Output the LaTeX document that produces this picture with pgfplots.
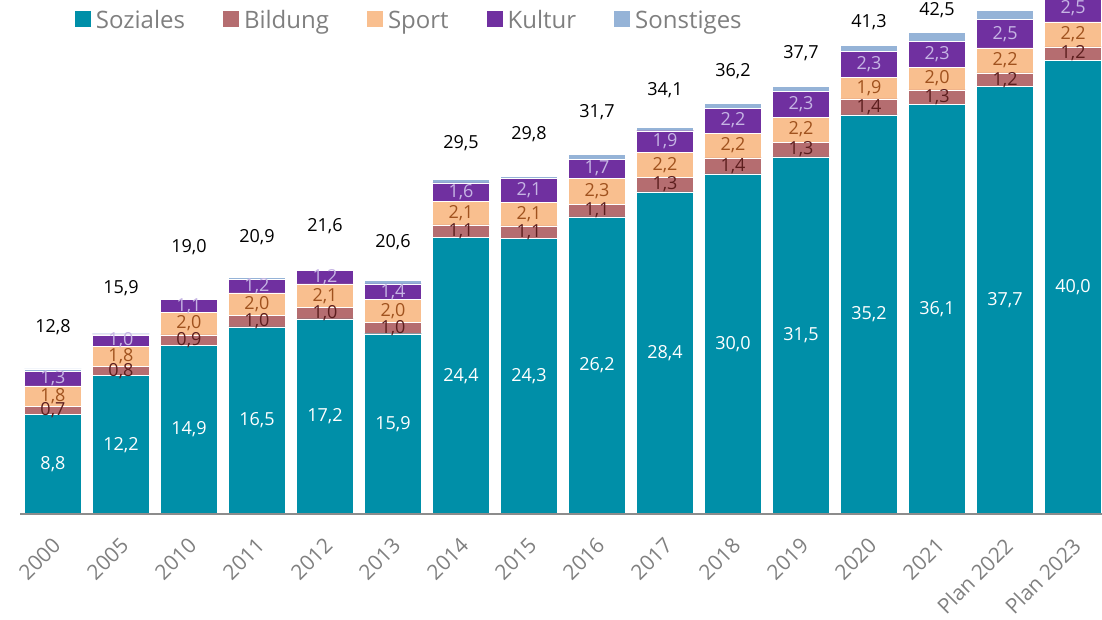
\documentclass[border=0pt]{standalone}
\usepackage{pgfplots}
\pgfplotsset{compat=1.18}
\usepackage{pgfplotstable}
\usepackage{fontspec}
\setmainfont{Open Sans}
\definecolor{csoz}{HTML}{008FA8}
\definecolor{cbil}{HTML}{B56D70}
\definecolor{cspo}{HTML}{F9BF8F}
\definecolor{ckul}{HTML}{7030A0}
\definecolor{cson}{HTML}{95B3D7}
\definecolor{ttext}{HTML}{7F7F7F}
\definecolor{taxis}{HTML}{8C8C8C}
\definecolor{lbil}{HTML}{5C1E1E}
\definecolor{lspo}{HTML}{A0521E}
\definecolor{lkul}{HTML}{C6B5E4}

\pgfplotstableread{
x soz bil spo kul son
0 8.8 0.7 1.8 1.3 0.2
1 12.2 0.8 1.8 1.0 0.1
2 14.9 0.9 2.0 1.1 0.1
3 16.5 1.0 2.0 1.2 0.2
4 17.2 1.0 2.1 1.2 0.1
5 15.9 1.0 2.0 1.4 0.3
6 24.4 1.1 2.1 1.6 0.3
7 24.3 1.1 2.1 2.1 0.2
8 26.2 1.1 2.3 1.7 0.4
9 28.4 1.3 2.2 1.9 0.3
10 30.0 1.4 2.2 2.2 0.4
11 31.5 1.3 2.2 2.3 0.4
12 35.2 1.4 1.9 2.3 0.5
13 36.1 1.3 2.0 2.3 0.8
14 37.7 1.2 2.2 2.5 0.8
15 40.0 1.2 2.2 2.5 0.8
}\datatable

\pgfplotstableread{
x ly tot
0 16.52 12.8
1 19.93 15.9
2 23.54 19.0
3 24.43 20.9
4 25.40 21.6
5 23.99 20.6
6 32.72 29.5
7 33.51 29.8
8 35.45 31.7
9 37.39 34.1
10 39.07 36.2
11 40.65 37.7
12 43.39 41.3
13 44.44 42.5
}\tottable

\pgfplotsset{
  common/.style={
    scale only axis, width=1082pt, height=514pt,
    xmin=-0.485, xmax=15.426, ymin=0, ymax=45.33,
    enlargelimits=false,
    at={(20pt,105pt)}, anchor=south west, clip=false,
  },
  lab/.style={draw=none, mark=none, nodes near coords, point meta=explicit,
    every node near coord/.append style={anchor=center, inner sep=0pt, text=#1,
      font=\fontsize{18pt}{20pt}\selectfont}},
}
\begin{document}
\begin{tikzpicture}
\begin{axis}[common,
  ybar stacked, bar width=57pt,
  axis on top,
  axis x line=bottom, axis y line=none,
  axis line style={-, draw=taxis, line width=2.5pt},
  xtick={0,...,15},
  xticklabels={2000,2005,2010,2011,2012,2013,2014,2015,2016,2017,2018,2019,2020,2021,Plan 2022,Plan 2023},
  major tick length=0pt, ytick=\empty,
  xticklabel style={font=\fontsize{21pt}{24pt}\selectfont, text=ttext, inner sep=0pt, yshift=-22pt, xshift=-2pt, rotate=45, anchor=north east},
  legend columns=-1,
  legend style={at={(0.0508,0.9795)}, anchor=north west, draw=none, fill=none,
    inner sep=0pt, outer sep=0pt, font=\fontsize{24pt}{28pt}\selectfont, text=ttext,
    nodes={inner sep=0pt},
    /tikz/every odd column/.append style={column sep=5pt},
    /tikz/every even column/.append style={column sep=38pt}},
  legend image code/.code={\fill[#1,draw=none] (0pt,-7pt) rectangle (16pt,9pt);},
]
\addplot[fill=csoz, draw=white, line width=0.4pt] table[x=x,y=soz]{\datatable};
\addplot[fill=cbil, draw=white, line width=0.4pt] table[x=x,y=bil]{\datatable};
\addplot[fill=cspo, draw=white, line width=0.4pt] table[x=x,y=spo]{\datatable};
\addplot[fill=ckul, draw=white, line width=0.4pt] table[x=x,y=kul]{\datatable};
\addplot[fill=cson, draw=white, line width=0.4pt] table[x=x,y=son]{\datatable};
\legend{Soziales,Bildung,Sport,Kultur,Sonstiges}
\end{axis}
\begin{axis}[common, hide axis,
  /pgf/number format/.cd, fixed, fixed zerofill, precision=1, use comma, assume math mode=true]
\addplot[lab=white] table[x=x, y expr=\thisrow{soz}/2, meta=soz]{\datatable};
\addplot[lab=lbil] table[x=x, y expr=\thisrow{soz}+\thisrow{bil}/2, meta=bil]{\datatable};
\addplot[lab=lspo] table[x=x, y expr=\thisrow{soz}+\thisrow{bil}+\thisrow{spo}/2, meta=spo]{\datatable};
\addplot[lab=lkul] table[x=x, y expr=\thisrow{soz}+\thisrow{bil}+\thisrow{spo}+\thisrow{kul}/2, meta=kul]{\datatable};
\addplot[lab=black] table[x=x, y=ly, meta=tot]{\tottable};
\end{axis}
\pgfresetboundingbox
\path[use as bounding box] (0pt,0pt) rectangle (1102pt,619pt);
\end{tikzpicture}
\end{document}
